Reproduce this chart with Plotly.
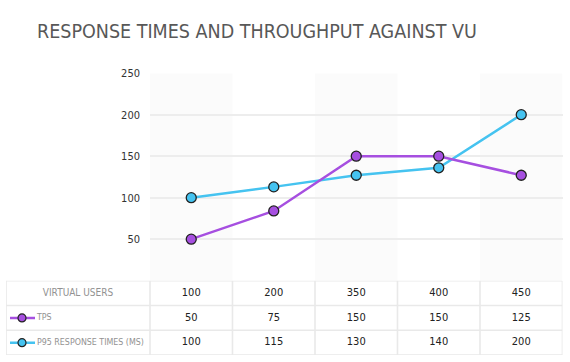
import plotly.graph_objects as go

# ---------------- data ----------------
title_text = "RESPONSE TIMES AND THROUGHPUT AGAINST VU"
virtual_users = ["100", "200", "350", "400", "450"]
tps_table = [50, 75, 150, 150, 125]
p95_table = [100, 115, 130, 140, 200]
# values as drawn in the chart area
tps_plot = [50, 84, 150, 150, 127]
p95_plot = [100, 113, 127, 136, 200]
series_names = ["TPS", "P95 RESPONSE TIMES (MS)"]
header_label = "VIRTUAL USERS"
y_ticks = [50, 100, 150, 200, 250]

# ---------------- styles / layout ----------------
W, H = 570, 362
FONT = "DejaVu Sans Condensed, sans-serif"
TPS_COLOR = "#a64fe0"
P95_COLOR = "#45c3f0"
GRID = "#ededed"
SHADE = "#fbfbfb"
BORDER = "#e9e9e9"

PLOT_L, PLOT_R, PLOT_T, PLOT_B = 150, 562.5, 68.3, 279.3
TAB_L, TAB_T, TAB_B = 6, 279.3, 355

n = len(virtual_users)
xs = list(range(n))
col_w = (PLOT_R - PLOT_L) / n
tab_x0 = -0.5 - (PLOT_L - TAB_L) / col_w


def px_to_tab(px):
    return tab_x0 + (px - TAB_L) / col_w


fig = go.Figure()

# main series
for name, vals, color in [(series_names[1], p95_plot, P95_COLOR),
                          (series_names[0], tps_plot, TPS_COLOR)]:
    fig.add_trace(go.Scatter(
        x=xs, y=vals, mode="lines+markers", name=name,
        line=dict(color=color, width=2.5),
        marker=dict(size=10, color=color, line=dict(color="#222", width=1.3)),
        xaxis="x", yaxis="y", showlegend=False, hoverinfo="skip"))

shapes = []
# alternate column shading
for i in range(0, n, 2):
    shapes.append(dict(type="rect", xref="x", yref="y", x0=i - 0.5, x1=i + 0.5,
                       y0=0, y1=250, fillcolor=SHADE, line=dict(width=0), layer="below"))

# ---------------- table ----------------
rows = 3
for r in range(rows + 1):
    shapes.append(dict(type="line", xref="x2", yref="y2", x0=tab_x0, x1=n - 0.5,
                       y0=r, y1=r, line=dict(color=BORDER, width=1.6)))
for c in [tab_x0] + [i - 0.5 for i in range(n + 1)]:
    shapes.append(dict(type="line", xref="x2", yref="y2", x0=c, x1=c,
                       y0=0, y1=rows, line=dict(color=BORDER, width=1.6)))

# header row
fig.add_trace(go.Scatter(
    x=[(tab_x0 - 0.5) / 2], y=[0.5], mode="text", text=[header_label],
    textfont=dict(family=FONT, size=10, color="#929292"),
    xaxis="x2", yaxis="y2", showlegend=False, hoverinfo="skip"))
fig.add_trace(go.Scatter(
    x=xs, y=[0.5] * n, mode="text", text=virtual_users,
    textfont=dict(family=FONT, size=11, color="#222"),
    xaxis="x2", yaxis="y2", showlegend=False, hoverinfo="skip"))

for r, (name, vals, color) in enumerate([(series_names[0], tps_table, TPS_COLOR),
                                         (series_names[1], p95_table, P95_COLOR)], start=1):
    yc = r + 0.5
    fig.add_trace(go.Scatter(
        x=[px_to_tab(10), px_to_tab(35)], y=[yc, yc], mode="lines",
        line=dict(color=color, width=2.5),
        xaxis="x2", yaxis="y2", showlegend=False, hoverinfo="skip"))
    fig.add_trace(go.Scatter(
        x=[px_to_tab(22)], y=[yc], mode="markers",
        marker=dict(size=8, color=color, line=dict(color="#222", width=1.2)),
        xaxis="x2", yaxis="y2", showlegend=False, hoverinfo="skip"))
    fig.add_trace(go.Scatter(
        x=[px_to_tab(37)], y=[yc], mode="text", text=[name], textposition="middle right",
        textfont=dict(family=FONT, size=8.8, color="#929292"),
        xaxis="x2", yaxis="y2", showlegend=False, hoverinfo="skip"))
    fig.add_trace(go.Scatter(
        x=xs, y=[yc] * n, mode="text", text=[str(v) for v in vals],
        textfont=dict(family=FONT, size=11, color="#222"),
        xaxis="x2", yaxis="y2", showlegend=False, hoverinfo="skip"))

fig.update_layout(
    width=W, height=H,
    margin=dict(l=0, r=0, t=0, b=0),
    paper_bgcolor="white", plot_bgcolor="rgba(0,0,0,0)",
    font=dict(family=FONT, color="#333"),
    shapes=shapes,
    xaxis=dict(domain=[PLOT_L / W, PLOT_R / W], range=[-0.5, n - 0.5],
               showgrid=False, zeroline=False, showticklabels=False, fixedrange=True),
    yaxis=dict(domain=[1 - PLOT_B / H, 1 - PLOT_T / H], range=[0, 250],
               tickvals=y_ticks, showgrid=True, gridcolor=GRID, gridwidth=2,
               zeroline=False, ticklabelstandoff=9,
               tickfont=dict(family=FONT, size=11, color="#333"), fixedrange=True),
    xaxis2=dict(domain=[TAB_L / W, PLOT_R / W], range=[tab_x0, n - 0.5],
                visible=False, fixedrange=True),
    yaxis2=dict(domain=[1 - TAB_B / H, 1 - TAB_T / H], range=[rows, 0],
                visible=False, fixedrange=True),
    annotations=[dict(text=title_text, xref="paper", yref="paper",
                      x=257 / W, y=1 - 26 / H, xanchor="center", yanchor="middle",
                      showarrow=False, font=dict(family=FONT, size=19.5, color="#585858"))],
)

fig.write_html("out.html", config={"displayModeBar": False},
               post_script="document.body.style.margin='0';document.body.style.padding='0';"
                           "document.documentElement.style.overflow='hidden';")
